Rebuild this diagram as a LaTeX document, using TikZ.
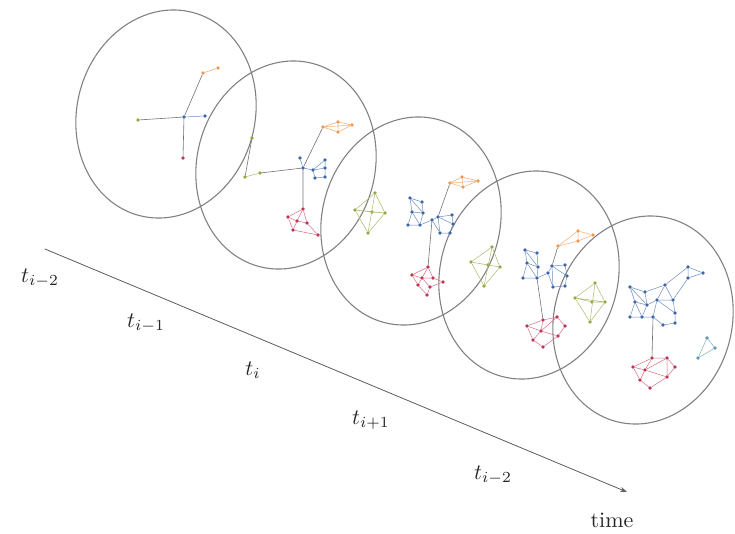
\documentclass[tikz,border=0pt]{standalone}
\usetikzlibrary{arrows.meta}
\begin{document}
\begin{tikzpicture}[x=1pt,y=-1pt,line join=round,line cap=round]%snapshots
            \definecolor{snapgray}{rgb}{0.45,0.45,0.45}
            \definecolor{olivegreen}{rgb}{0.58,0.66,0.26}
            \definecolor{tangerine}{rgb}{0.93,0.6,0.32}
            \definecolor{steelblue}{rgb}{0.24,0.4,0.66}
            \definecolor{crimsonred}{rgb}{0.76,0.2,0.32}
            \definecolor{tealblue}{rgb}{0.36,0.6,0.7}
            \tikzset{
                vtx/.style={circle,fill=#1,inner sep=0pt,minimum size=3.6pt},
                vg/.style={vtx=olivegreen}, vo/.style={vtx=tangerine},
                vb/.style={vtx=steelblue}, vr/.style={vtx=crimsonred},
                vc/.style={vtx=tealblue},
                eg/.style={draw=olivegreen!80,line width=.5pt},
                eo/.style={draw=tangerine!80,line width=.5pt},
                eb/.style={draw=steelblue!75,line width=.5pt},
                er/.style={draw=crimsonred!70,line width=.5pt},
                ec/.style={draw=tealblue!80,line width=.5pt},
                lnk/.style={draw=snapgray,line width=.6pt},
                snap/.style={draw=snapgray!90,line width=1.1pt},
                lbl/.style={scale=2.2,text=black!85}
            }
            \useasboundingbox (0,0) rectangle (735,533);
            % five snapshots
            \draw[snap,rotate around={-15:(166,114)}] (166,114) ellipse [x radius=89pt,y radius=105pt];
            \draw[snap,rotate around={-15:(286,165)}] (286,165) ellipse [x radius=89pt,y radius=105pt];
            \draw[snap,rotate around={-15:(411,221)}] (411,221) ellipse [x radius=89pt,y radius=105pt];
            \draw[snap,rotate around={-15:(529,275)}] (529,275) ellipse [x radius=89pt,y radius=105pt];
            \draw[snap,rotate around={-15:(643,320)}] (643,320) ellipse [x radius=89pt,y radius=105pt];
            % t_{i-2}
            \path (138,120) node[vg](Ag1){}
            (184,117) node[vb](Ab1){} (205,116) node[vb](Ab2){}
            (203,73) node[vo](Ao1){} (218,68) node[vo](Ao2){}
            (183,158) node[vr](Ar1){};
            \draw[lnk] (Ag1)--(Ab1) (Ab1)--(Ao1) (Ab1)--(Ar1);
            \draw[eb] (Ab1)--(Ab2);
            \draw[eo] (Ao1)--(Ao2);
            % t_{i-1}
            \path (245,177) node[vg](Bg1){} (260,173) node[vg](Bg2){} (252,138) node[vg](Bg3){}
            (303,168) node[vb](Bb1){} (300,158) node[vb](Bb2){} (313,170) node[vb](Bb3){}
            (325,160) node[vb](Bb4){} (325,168) node[vb](Bb5){} (325,177) node[vb](Bb6){}
            (315,178) node[vb](Bb7){}
            (323,127) node[vo](Bo1){} (338,122) node[vo](Bo2){} (352,125) node[vo](Bo3){}
            (338,132) node[vo](Bo4){}
            (303,209) node[vr](Br1){} (288,217) node[vr](Br2){} (297,221) node[vr](Br3){}
            (307,223) node[vr](Br4){} (293,230) node[vr](Br5){} (318,235) node[vr](Br6){};
            \draw[lnk] (Bg1)--(Bg3) (Bg2)--(Bb1) (Bb1)--(Bo1) (Bb1)--(Br1);
            \draw[eg] (Bg1)--(Bg2);
            \draw[eb] (Bb1)--(Bb2) (Bb1)--(Bb3) (Bb3)--(Bb5) (Bb4)--(Bb5) (Bb5)--(Bb6)
            (Bb6)--(Bb7) (Bb3)--(Bb7) (Bb3)--(Bb4);
            \draw[eo] (Bo1)--(Bo2)--(Bo3)--(Bo4)--(Bo1) (Bo2)--(Bo4) (Bo1)--(Bo3);
            \draw[er] (Br1)--(Br2)--(Br5)--(Br6)--(Br4)--(Br1) (Br2)--(Br3)--(Br4)
            (Br1)--(Br3)--(Br5);
            % t_i
            \path (355,210) node[vg](Cg1){} (375,193) node[vg](Cg2){} (385,213) node[vg](Cg3){}
            (368,233) node[vg](Cg4){} (372,212) node[vg](Cg5){}
            (410,198) node[vb](Cb1){} (422,202) node[vb](Cb2){} (412,212) node[vb](Cb3){}
            (423,213) node[vb](Cb4){} (408,225) node[vb](Cb5){} (420,225) node[vb](Cb6){}
            (432,220) node[vb](Cb7){} (438,217) node[vb](Cb8){} (452,215) node[vb](Cb9){}
            (453,224) node[vb](Cb10){} (450,233) node[vb](Cb11){} (440,233) node[vb](Cb12){}
            (450,183) node[vo](Co1){} (462,177) node[vo](Co2){} (478,181) node[vo](Co3){}
            (463,187) node[vo](Co4){}
            (428,267) node[vr](Cr1){} (412,275) node[vr](Cr2){} (422,278) node[vr](Cr3){}
            (433,278) node[vr](Cr4){} (443,282) node[vr](Cr5){} (430,287) node[vr](Cr6){}
            (418,285) node[vr](Cr7){} (427,295) node[vr](Cr8){};
            \draw[lnk] (Cb8)--(Co1) (Cb7)--(Cr1);
            \draw[eg] (Cg1)--(Cg2)--(Cg3)--(Cg4)--(Cg1)--(Cg3) (Cg2)--(Cg4)
            (Cg1)--(Cg5)--(Cg3);
            \draw[eb] (Cb1)--(Cb2)--(Cb4)--(Cb3)--(Cb1)--(Cb4) (Cb3)--(Cb5)--(Cb6)--(Cb4)
            (Cb3)--(Cb6)--(Cb7)--(Cb8)--(Cb9)--(Cb10)--(Cb11)--(Cb12)--(Cb7)
            (Cb8)--(Cb12) (Cb8)--(Cb10);
            \draw[eo] (Co1)--(Co2)--(Co3)--(Co4)--(Co1) (Co2)--(Co4) (Co1)--(Co3);
            \draw[er] (Cr1)--(Cr2)--(Cr7)--(Cr8)--(Cr6)--(Cr5)--(Cr4)--(Cr1)
            (Cr2)--(Cr3)--(Cr4) (Cr3)--(Cr6) (Cr1)--(Cr3)--(Cr7);
            % t_{i+1}
            \path (471,262) node[vg](Dg1){} (492,247) node[vg](Dg2){} (500,267) node[vg](Dg3){}
            (484,286) node[vg](Dg4){} (488,265) node[vg](Dg5){}
            (525,250) node[vb](Db1){} (537,253) node[vb](Db2){} (527,263) node[vb](Db3){}
            (538,267) node[vb](Db4){} (523,278) node[vb](Db5){} (537,278) node[vb](Db6){}
            (548,273) node[vb](Db7){} (552,266) node[vb](Db8){} (565,265) node[vb](Db9){}
            (567,276) node[vb](Db10){} (565,286) node[vb](Db11){} (553,287) node[vb](Db12){}
            (558,246) node[vo](Do1){} (578,231) node[vo](Do2){} (593,235) node[vo](Do3){}
            (578,241) node[vo](Do4){}
            (543,320) node[vr](Dr1){} (527,326) node[vr](Dr2){} (557,317) node[vr](Dr3){}
            (565,326) node[vr](Dr4){} (558,336) node[vr](Dr5){} (543,347) node[vr](Dr6){}
            (533,340) node[vr](Dr7){} (541,331) node[vr](Dr8){};
            \draw[lnk] (Db8)--(Do1) (Db6)--(Dr1);
            \draw[eg] (Dg1)--(Dg2)--(Dg3)--(Dg4)--(Dg1)--(Dg3) (Dg2)--(Dg4)
            (Dg1)--(Dg5)--(Dg3);
            \draw[eb] (Db1)--(Db2)--(Db4)--(Db3)--(Db1)--(Db4) (Db3)--(Db5)--(Db6)--(Db4)
            (Db3)--(Db6)--(Db7)--(Db8)--(Db9)--(Db10)--(Db11)--(Db12)--(Db7)
            (Db8)--(Db12) (Db8)--(Db10);
            \draw[eo] (Do1)--(Do2)--(Do3)--(Do4)--(Do1) (Do2)--(Do4);
            \draw[er] (Dr1)--(Dr2)--(Dr7)--(Dr6)--(Dr5)--(Dr4)--(Dr3)--(Dr1)
            (Dr1)--(Dr8)--(Dr5) (Dr2)--(Dr8)--(Dr7) (Dr3)--(Dr8);
            % t_{i+2}
            \path (575,298) node[vg](Eg1){} (595,283) node[vg](Eg2){} (605,302) node[vg](Eg3){}
            (590,322) node[vg](Eg4){} (592,302) node[vg](Eg5){}
            (630,287) node[vb](Eb1){} (645,292) node[vb](Eb2){} (635,302) node[vb](Eb3){}
            (647,305) node[vb](Eb4){} (630,317) node[vb](Eb5){} (642,317) node[vb](Eb6){}
            (653,317) node[vb](Eb7){} (665,285) node[vb](Eb8){} (657,300) node[vb](Eb9){}
            (673,300) node[vb](Eb10){} (675,313) node[vb](Eb11){} (675,323) node[vb](Eb12){}
            (663,325) node[vb](Eb13){} (688,267) node[vb](Eb14){} (703,273) node[vb](Eb15){}
            (688,278) node[vb](Eb16){}
            (652,358) node[vr](Er1){} (667,358) node[vr](Er2){} (675,367) node[vr](Er3){}
            (667,377) node[vr](Er4){} (650,388) node[vr](Er5){} (640,380) node[vr](Er6){}
            (633,367) node[vr](Er7){} (645,370) node[vr](Er8){}
            (707,338) node[vc](Ec1){} (715,348) node[vc](Ec2){} (698,358) node[vc](Ec3){};
            \draw[lnk] (Eb7)--(Er1);
            \draw[eg] (Eg1)--(Eg2)--(Eg3)--(Eg4)--(Eg1)--(Eg3) (Eg2)--(Eg4)
            (Eg1)--(Eg5)--(Eg3);
            \draw[eb] (Eb1)--(Eb2)--(Eb4)--(Eb3)--(Eb1)--(Eb4) (Eb3)--(Eb5)--(Eb6)--(Eb4)
            (Eb3)--(Eb6)--(Eb7)--(Eb9)--(Eb8)--(Eb2) (Eb8)--(Eb10)--(Eb9)
            (Eb10)--(Eb11)--(Eb12)--(Eb13)--(Eb7) (Eb9)--(Eb11) (Eb4)--(Eb9)
            (Eb8)--(Eb14)--(Eb15)--(Eb16)--(Eb14) (Eb10)--(Eb16);
            \draw[er] (Er1)--(Er2)--(Er3)--(Er4)--(Er5)--(Er6)--(Er7)--(Er1)
            (Er1)--(Er8)--(Er4) (Er7)--(Er8)--(Er2) (Er6)--(Er8) (Er2)--(Er4);
            \draw[ec] (Ec1)--(Ec2)--(Ec3)--(Ec1);
            % time axis
            \coordinate (ax0) at (45,249);
            \coordinate (ax1) at (627,492);
            \draw[snapgray!80!black,line width=.8pt,-{Stealth[length=7pt,width=5pt]}] (ax0)--(ax1);
            \node[lbl] (tA) at (40,278) {$t_{i-2}$};
            \node[lbl] (tB) at (146,323) {$t_{i-1}$};
            \node[lbl] (tC) at (253,370) {$t_{i}$};
            \node[lbl] (tD) at (371,420) {$t_{i+1}$};
            \node[lbl] (tE) at (493,475) {$t_{i-2}$};
            \node[lbl] (tt) at (612,520) {time};
    \end{tikzpicture}
\end{document}
